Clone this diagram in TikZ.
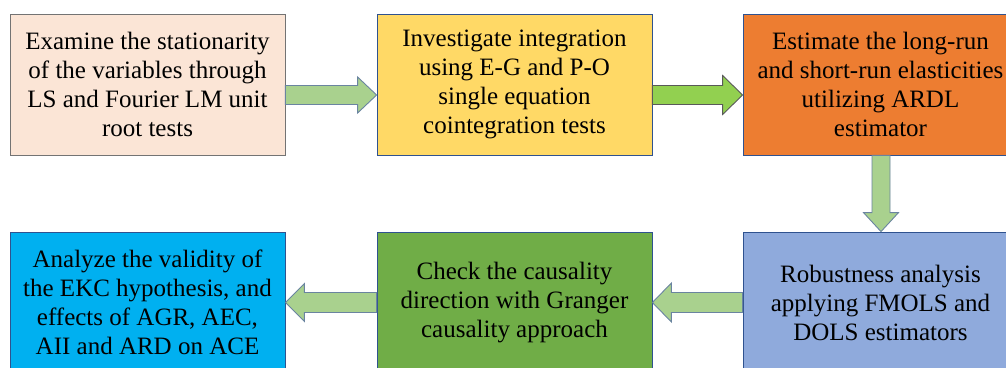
\documentclass[tikz,border=0pt]{standalone}
\usepackage{fontspec}
\setmainfont{Liberation Serif}
\usetikzlibrary{calc}
\definecolor{cPeach}{HTML}{FBE5D6}
\definecolor{cYellow}{HTML}{FFD966}
\definecolor{cOrange}{HTML}{ED7D31}
\definecolor{cBlueL}{HTML}{8FAADC}
\definecolor{cGreenD}{HTML}{70AD47}
\definecolor{cCyan}{HTML}{00B0F0}
\definecolor{cArrow}{HTML}{A9D18E}
\definecolor{cArrowB}{HTML}{92D050}
\definecolor{cEdge}{HTML}{2F528F}
\definecolor{cArrEdge}{HTML}{6A84A0}
\tikzset{
  stepbox/.style={draw=cEdge, line width=0.8pt, minimum width=275pt, minimum height=141pt,
    inner sep=0pt, align=center, font=\fontsize{25}{29}\selectfont, text=black},
  blk/.style={fill=cArrow, draw=cArrEdge, line width=0.9pt, line join=miter},
}
\begin{document}
\begin{tikzpicture}[x=1pt,y=1pt]
\useasboundingbox (0,0) rectangle (1006,367);
\clip (0,0) rectangle (1006,367);
\fill[white] (0,0) rectangle (1006,367);
% boxes
\node[stepbox, fill=cPeach, draw=gray!90!black] (b1) at (147.5,282.5)
  {Examine the stationarity\\of the variables through\\LS and Fourier LM unit\\root tests};
\node[stepbox, fill=cYellow] (b2) at (514.5,282.5)
  {Investigate integration\\using E-G and P-O\\single equation\\cointegration tests};
\node[stepbox, fill=cOrange] (b3) at (880.5,282.5)
  {Estimate the long-run\\and short-run elasticities\\utilizing ARDL\\estimator};
\node[stepbox, fill=cBlueL] (b4) at (880.5,64.5)
  {Robustness analysis\\applying FMOLS and\\DOLS estimators};
\node[stepbox, fill=cGreenD] (b5) at (514.5,64.5)
  {Check the causality\\direction with Granger\\causality approach};
\node[stepbox, fill=cCyan] (b6) at (147.5,64.5)
  {Analyze the validity of\\the EKC hypothesis, and\\effects of AGR, AEC,\\AII and ARD on ACE};
% arrow anchor points
\coordinate (a1s) at ($(b1.east)+(0,-10.5)$);
\coordinate (a1e) at ($(b2.west)+(0,-10.5)$);
\coordinate (a2s) at ($(b2.east)+(0,-10.5)$);
\coordinate (a2e) at ($(b3.west)+(0,-10.5)$);
\coordinate (a3s) at ($(b3.south)+(0.5,0)$);
\coordinate (a3e) at ($(b4.north)+(0.5,0)$);
\coordinate (a4s) at (b4.west);
\coordinate (a4e) at (b5.east);
\coordinate (a5s) at (b5.west);
\coordinate (a5e) at (b6.east);
% right arrows
\draw[blk] ($(a1s)+(0,9.5)$) -- ($(a1e)+(-19,9.5)$) -- ($(a1e)+(-19,18)$) -- (a1e)
  -- ($(a1e)+(-19,-18)$) -- ($(a1e)+(-19,-9.5)$) -- ($(a1s)+(0,-9.5)$) -- cycle;
\draw[blk, fill=cArrowB, draw=black!65] ($(a2s)+(0,9.5)$) -- ($(a2e)+(-20,9.5)$) -- ($(a2e)+(-20,19.5)$) -- (a2e)
  -- ($(a2e)+(-20,-19.5)$) -- ($(a2e)+(-20,-9.5)$) -- ($(a2s)+(0,-9.5)$) -- cycle;
% down arrow
\draw[blk] ($(a3s)+(-9,0)$) -- ($(a3e)+(-9,19)$) -- ($(a3e)+(-17.5,19)$) -- (a3e)
  -- ($(a3e)+(17.5,19)$) -- ($(a3e)+(9,19)$) -- ($(a3s)+(9,0)$) -- cycle;
% left arrows
\draw[blk] ($(a4s)+(0,10)$) -- ($(a4e)+(19,10)$) -- ($(a4e)+(19,19.5)$) -- (a4e)
  -- ($(a4e)+(19,-19.5)$) -- ($(a4e)+(19,-10)$) -- ($(a4s)+(0,-10)$) -- cycle;
\draw[blk] ($(a5s)+(0,10)$) -- ($(a5e)+(19,10)$) -- ($(a5e)+(19,19)$) -- (a5e)
  -- ($(a5e)+(19,-19)$) -- ($(a5e)+(19,-10)$) -- ($(a5s)+(0,-10)$) -- cycle;
\end{tikzpicture}
\end{document}
